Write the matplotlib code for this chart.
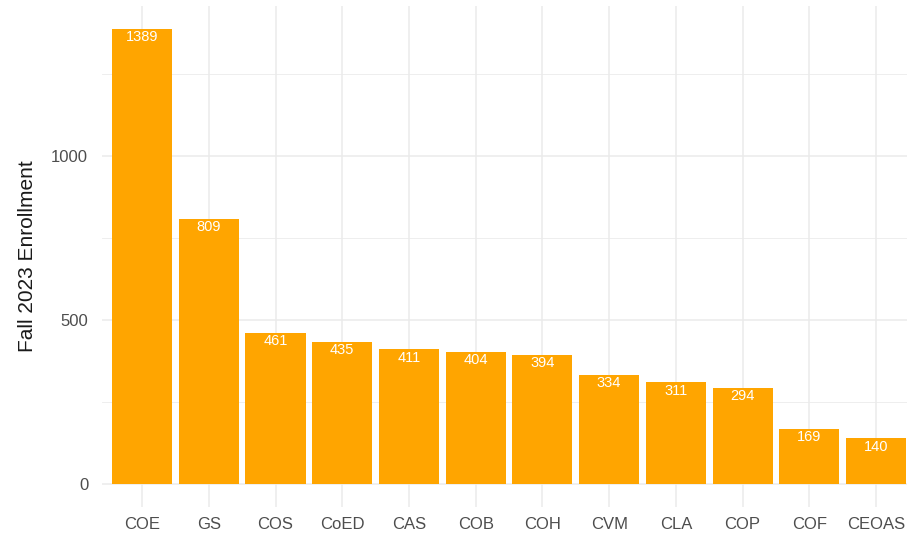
import matplotlib.pyplot as plt
import numpy as np

# Fall 2023 enrollment by college
colleges = ['COE', 'GS', 'COS', 'CoED', 'CAS', 'COB', 'COH', 'CVM', 'CLA', 'COP', 'COF', 'CEOAS']
enrollment = [1389, 809, 461, 435, 411, 404, 394, 334, 311, 294, 169, 140]

plt.rcParams['font.family'] = ['Liberation Sans', 'DejaVu Sans']

fig = plt.figure(figsize=(9.07, 5.35), dpi=100)
ax = fig.add_axes([0.1125, 0.0523, 0.8975, 0.9365])

x = np.arange(len(colleges))
ax.bar(x, enrollment, width=0.9, color='#FFA500', zorder=3)

for xi, v in zip(x, enrollment):
    ax.annotate(str(v), (xi, v), xytext=(0, -1), textcoords='offset points',
                ha='center', va='top', color='white', fontsize=10.5, zorder=4)

ax.set_xlim(-0.6, len(colleges) - 0.4)
ymax = max(enrollment)
ax.set_ylim(-0.05 * ymax, 1.05 * ymax)

ax.set_xticks(x)
ax.set_xticklabels(colleges)
ax.set_yticks([0, 500, 1000])
ax.set_yticks([250, 750, 1250], minor=True)
ax.tick_params(axis='both', which='both', length=0, labelsize=12, colors='#4d4d4d')
ax.tick_params(axis='y', pad=10)
ax.tick_params(axis='x', pad=7)

ax.grid(which='major', color='#ebebeb', linewidth=1.1, zorder=0)
ax.grid(which='minor', axis='y', color='#ebebeb', linewidth=0.6, zorder=0)
for s in ax.spines.values():
    s.set_visible(False)

ax.set_ylabel('Fall 2023 Enrollment', fontsize=15, color='#1a1a1a', labelpad=10)

fig.savefig('out.png', dpi=100)
